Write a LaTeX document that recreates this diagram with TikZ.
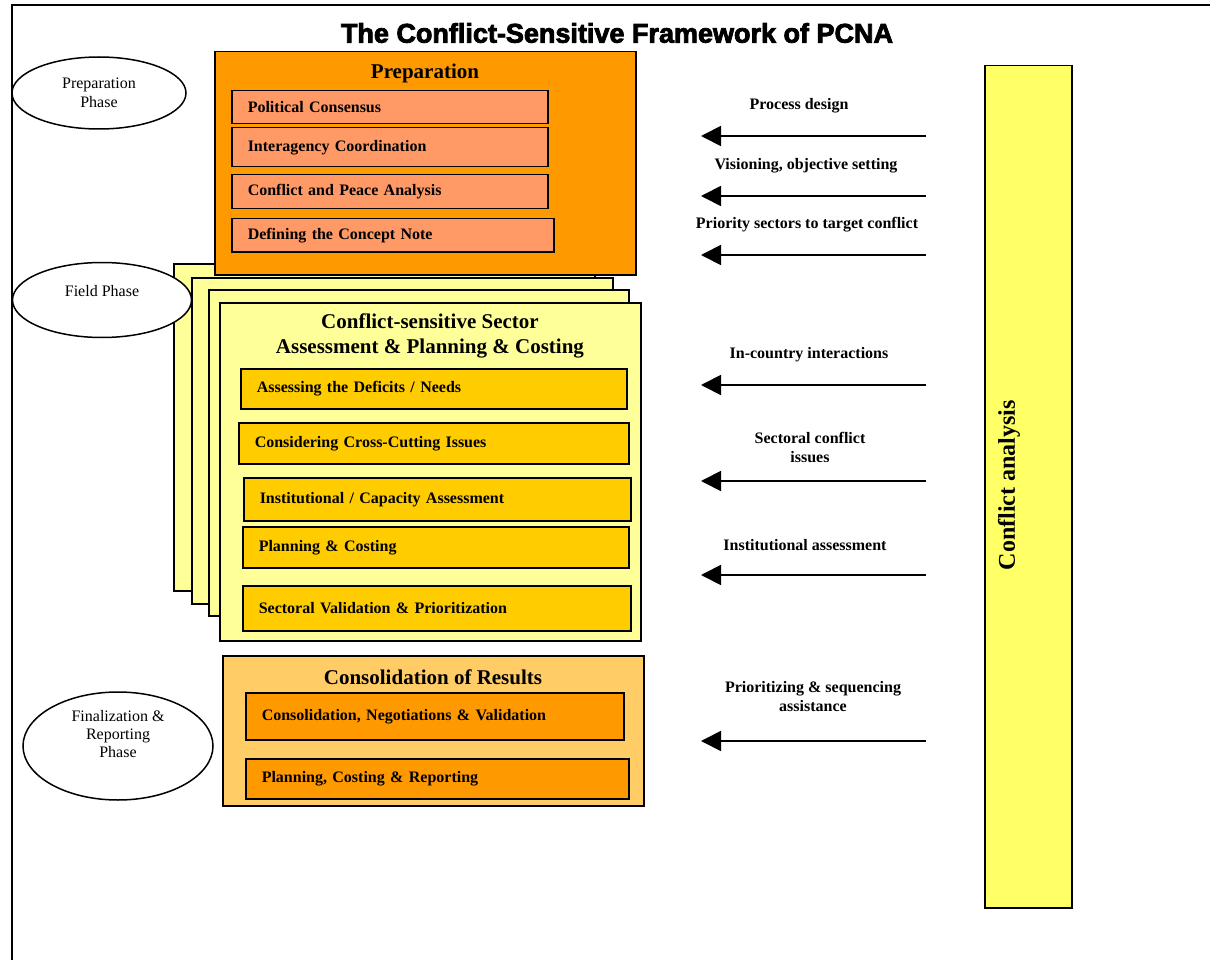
\documentclass[tikz,border=0pt]{standalone}
\usepackage{fontspec}
\setmainfont{Liberation Serif}
\newfontfamily\titlefont{Liberation Sans}[BoldFeatures={FakeBold=3}]
\usetikzlibrary{shapes.geometric,arrows.meta}
\definecolor{prep}{HTML}{FF9900}
\definecolor{prepitem}{HTML}{FF9966}
\definecolor{sector}{HTML}{FFFF99}
\definecolor{sectoritem}{HTML}{FFCC00}
\definecolor{consol}{HTML}{FFCC66}
\definecolor{analysis}{HTML}{FFFF66}
\tikzset{
  phase/.style={draw, ellipse, fill=white, line width=1.5pt, inner sep=0pt, align=center,
    font=\fontsize{16}{19}\selectfont},
  panel/.style={draw, line width=1.5pt, anchor=north west, inner sep=0pt},
  item/.style={draw, line width=1.5pt, anchor=north west, inner xsep=16pt, inner ysep=0pt,
    align=left, font=\bfseries\fontsize{16}{18}\selectfont},
  head/.style={font=\bfseries\fontsize{21}{25}\selectfont, align=center},
  flow/.style={line width=1.8pt, -{Triangle[length=20pt,width=20pt]}},
  flowname/.style={font=\bfseries\fontsize{16}{19}\selectfont, align=center}
}

\begin{document}
\begin{tikzpicture}[x=1pt,y=-1pt]
\useasboundingbox (0,0) rectangle (1210,960);
\draw[line width=1.5pt] (12,960) -- (12,5) -- (1210,5);
\node[font=\titlefont\bfseries\fontsize{27}{30}\selectfont] (title) at (617,33) {The Conflict-Sensitive Framework of PCNA};

% field phase: stacked sheets
\node[panel,fill=sector,minimum width=421,minimum height=327] (back1) at (173,263) {};
\node[panel,fill=sector,minimum width=421,minimum height=326] (back2) at (191,277) {};
\node[panel,fill=sector,minimum width=420,minimum height=326] (back3) at (208,289) {};
\node[panel,fill=sector,minimum width=421,minimum height=338] (sect) at (219,302) {};
\node[head] (sectT) at (430,336) {Conflict-sensitive Sector\\Assessment \& Planning \& Costing};
\node[item,fill=sectoritem,minimum height=40,text width=354pt] (ad) at (240,368) {Assessing the Deficits / Needs};
\node[item,fill=sectoritem,minimum height=41,text width=358pt] (cc) at (238,422) {Considering Cross-Cutting Issues};
\node[item,fill=sectoritem,minimum height=43,text width=355pt] (ia) at (243,477) {Institutional / Capacity Assessment};
\node[item,fill=sectoritem,minimum height=41,text width=354pt] (pl) at (242,526) {Planning \& Costing};
\node[item,fill=sectoritem,minimum height=45,text width=356pt] (sv) at (242,585) {Sectoral Validation \& Prioritization};

% preparation
\node[panel,fill=prep,minimum width=421,minimum height=223] (prepB) at (214,51) {};
\node[head] (prepT) at (425,73) {Preparation};
\node[item,fill=prepitem,minimum height=33,text width=284pt] (pc) at (231,90) {Political Consensus};
\node[item,fill=prepitem,minimum height=39,text width=284pt] (ic) at (231,127) {Interagency Coordination};
\node[item,fill=prepitem,minimum height=34,text width=284pt] (cp) at (231,174) {Conflict and Peace Analysis};
\node[item,fill=prepitem,minimum height=33,text width=290pt] (dc) at (231,218) {Defining the Concept Note};

% consolidation
\node[panel,fill=consol,minimum width=421,minimum height=150] (consB) at (222,655) {};
\node[head] (consT) at (433,677) {Consolidation of Results};
\node[item,fill=prep,minimum height=47,text width=346pt] (cn) at (245,692) {Consolidation, Negotiations \& Validation\\[8pt]};
\node[item,fill=prep,minimum height=40,text width=351pt] (pr) at (245,758) {Planning, Costing \& Reporting};

% phases
\node[phase,minimum width=174,minimum height=72] (prepP) at (99,93) {Preparation\\Phase};
\node[phase,minimum width=179,minimum height=75] (fieldP) at (102,300) {Field Phase\\~};
\node[phase,minimum width=190,minimum height=108] (finP) at (118,746) {};
\node[align=center,font=\fontsize{16}{18}\selectfont] (finT) at (118,734) {Finalization \&\\Reporting\\Phase};

% conflict analysis
\node[panel,fill=analysis,minimum width=87,minimum height=842] (ca) at (984,65) {};
\node[rotate=90,font=\bfseries\fontsize{24}{28}\selectfont] (caT) at (1009,485) {Conflict analysis};

% inputs
\foreach \y [count=\i] in {136,196,255,385,481,575,741}{
  \coordinate (s\i) at (926,\y);
  \coordinate (e\i) at (701,\y);
  \draw[flow] (s\i) -- (e\i);
}
\node[flowname] (f1) at (799,106) {Process design};
\node[flowname] (f2) at (806,166) {Visioning, objective setting};
\node[flowname] (f3) at (807,225) {Priority sectors to target conflict};
\node[flowname] (f4) at (809,355) {In-country interactions};
\node[flowname] (f5) at (810,447) {Sectoral conflict\\issues};
\node[flowname] (f6) at (805,545) {Institutional assessment};
\node[flowname] (f7) at (813,697) {Prioritizing \& sequencing\\assistance};
\end{tikzpicture}
\end{document}
